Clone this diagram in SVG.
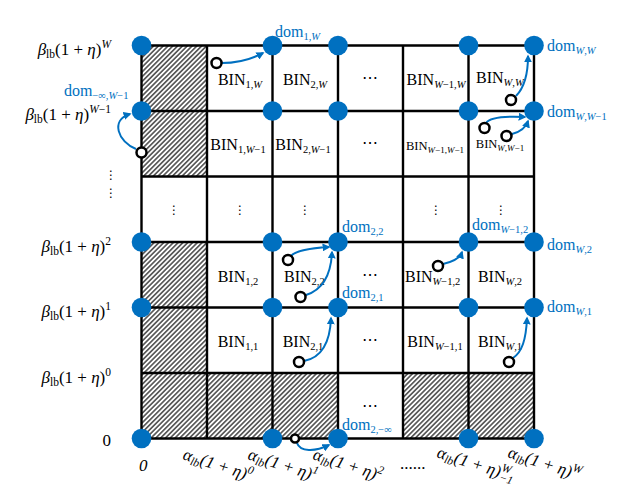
<svg xmlns="http://www.w3.org/2000/svg" width="640" height="485" viewBox="0 0 640 485">
<style>
text{font-family:"Liberation Serif","DejaVu Serif",serif;font-size:16px;fill:#000}
.it{font-style:italic}
.s{font-size:10.5px}
.ax{font-size:17px}
.ax .s{font-size:11.5px}
.sm{font-size:12.5px}
.sm .s{font-size:9px}
.blue{fill:#0070C0}
.grid{stroke:#000;stroke-width:2.4;fill:none}
.dot{fill:#0070C0}
.oc{fill:#fff;stroke:#000;stroke-width:2.5}
.arr{fill:none;stroke:#0070C0;stroke-width:2;marker-end:url(#ah)}
.dots{font-family:"DejaVu Sans",sans-serif;font-size:12px}
</style>
<defs>
<pattern id="hatch" width="3.4" height="3.4" patternUnits="userSpaceOnUse" patternTransform="rotate(45)">
<line x1="1.7" y1="0" x2="1.7" y2="3.4" stroke="#000" stroke-width="1.1"/>
</pattern>
<marker id="ah" viewBox="0 0 10 10" refX="8" refY="5" markerWidth="4" markerHeight="4" orient="auto">
<path d="M0,0 L10,5 L0,10 z" fill="#0070C0"/>
</marker>
</defs>
<rect width="640" height="485" fill="#fff"/>

<g id="hatched">
<rect x="141.5" y="45.5" width="65.5" height="131" fill="url(#hatch)"/>
<rect x="141.5" y="242" width="65.5" height="196.5" fill="url(#hatch)"/>
<rect x="207" y="373" width="131" height="65.5" fill="url(#hatch)"/>
<rect x="403" y="373" width="131" height="65.5" fill="url(#hatch)"/>
</g>

<g id="grid" class="grid">
<path d="M141.5 45.5V438.5M207 45.5V438.5M272.5 45.5V438.5M338 45.5V438.5M403 45.5V438.5M468.5 45.5V438.5M534 45.5V438.5"/>
<path d="M141.5 45.5H534M141.5 111H534M141.5 176.5H534M141.5 242H534M141.5 307.5H534M141.5 373H534M141.5 438.5H534"/>
</g>

<g id="bins">
<text x="240" y="85" text-anchor="middle">BIN<tspan class="s" dy="3">1,</tspan><tspan class="s it">W</tspan></text>
<text x="305" y="85" text-anchor="middle">BIN<tspan class="s" dy="3">2,</tspan><tspan class="s it">W</tspan></text>
<text x="370" y="83" text-anchor="middle">⋯</text>
<text x="436" y="85" text-anchor="middle">BIN<tspan class="s it" dy="3">W</tspan><tspan class="s">−1,</tspan><tspan class="s it">W</tspan></text>
<text x="476" y="83">BIN<tspan class="s it" dy="3">W</tspan><tspan class="s">,</tspan><tspan class="s it">W</tspan></text>

<text x="238" y="150" text-anchor="middle">BIN<tspan class="s" dy="3">1,</tspan><tspan class="s it">W</tspan><tspan class="s">−1</tspan></text>
<text x="303" y="150" text-anchor="middle">BIN<tspan class="s" dy="3">2,</tspan><tspan class="s it">W</tspan><tspan class="s">−1</tspan></text>
<text x="370" y="148" text-anchor="middle">⋯</text>
<text class="sm" x="435" y="150" text-anchor="middle">BIN<tspan class="s" dy="2.5" font-style="italic">W</tspan><tspan class="s">−1,</tspan><tspan class="s" font-style="italic">W</tspan><tspan class="s">−1</tspan></text>
<text class="sm" x="500" y="148" text-anchor="middle">BIN<tspan class="s" dy="2.5" font-style="italic">W</tspan><tspan class="s">,</tspan><tspan class="s" font-style="italic">W</tspan><tspan class="s">−1</tspan></text>

<text class="dots" x="174" y="214" text-anchor="middle">⋮</text>
<text class="dots" x="240" y="214" text-anchor="middle">⋮</text>
<text class="dots" x="305" y="214" text-anchor="middle">⋮</text>
<text class="dots" x="436" y="214" text-anchor="middle">⋮</text>
<text class="dots" x="501" y="214" text-anchor="middle">⋮</text>

<text x="238" y="282" text-anchor="middle">BIN<tspan class="s" dy="3">1,2</tspan></text>
<text x="284" y="282">BIN<tspan class="s" dy="3">2,2</tspan></text>
<text x="370" y="280" text-anchor="middle">⋯</text>
<text x="405" y="282">BIN<tspan class="s it" dy="3">W</tspan><tspan class="s">−1,2</tspan></text>
<text x="500" y="282" text-anchor="middle">BIN<tspan class="s it" dy="3">W</tspan><tspan class="s">,2</tspan></text>

<text x="238" y="347" text-anchor="middle">BIN<tspan class="s" dy="3">1,1</tspan></text>
<text x="303" y="347" text-anchor="middle">BIN<tspan class="s" dy="3">2,1</tspan></text>
<text x="370" y="345" text-anchor="middle">⋯</text>
<text x="435" y="347" text-anchor="middle">BIN<tspan class="s it" dy="3">W</tspan><tspan class="s">−1,1</tspan></text>
<text x="500" y="347" text-anchor="middle">BIN<tspan class="s it" dy="3">W</tspan><tspan class="s">,1</tspan></text>

<text x="370" y="411" text-anchor="middle">⋯</text>
</g>

<g id="yaxis">
<text class="ax" x="111" y="55" text-anchor="end"><tspan class="it">β</tspan><tspan class="s" dy="3">lb</tspan><tspan dy="-3">(1 + </tspan><tspan class="it">η</tspan>)<tspan class="s it" dy="-7">W</tspan></text>
<text class="ax" x="111" y="120" text-anchor="end"><tspan class="it">β</tspan><tspan class="s" dy="3">lb</tspan><tspan dy="-3">(1 + </tspan><tspan class="it">η</tspan>)<tspan class="s it" dy="-7">W</tspan><tspan class="s">−1</tspan></text>
<text class="dots" x="111" y="179" text-anchor="middle">⋮</text>
<text class="dots" x="111" y="197" text-anchor="middle">⋮</text>
<text class="ax" x="111" y="252" text-anchor="end"><tspan class="it">β</tspan><tspan class="s" dy="3">lb</tspan><tspan dy="-3">(1 + </tspan><tspan class="it">η</tspan>)<tspan class="s" dy="-7">2</tspan></text>
<text class="ax" x="111" y="317" text-anchor="end"><tspan class="it">β</tspan><tspan class="s" dy="3">lb</tspan><tspan dy="-3">(1 + </tspan><tspan class="it">η</tspan>)<tspan class="s" dy="-7">1</tspan></text>
<text class="ax" x="111" y="383" text-anchor="end"><tspan class="it">β</tspan><tspan class="s" dy="3">lb</tspan><tspan dy="-3">(1 + </tspan><tspan class="it">η</tspan>)<tspan class="s" dy="-7">0</tspan></text>
<text class="ax" x="111" y="446" text-anchor="end">0</text>
</g>

<g id="xaxis">
<text class="ax it" x="139" y="471">0</text>
<text class="ax it" transform="translate(182,459) rotate(18)">α<tspan class="s" dy="3">lb</tspan><tspan dy="-3">(1 + η)</tspan><tspan class="s" dy="-7">0</tspan></text>
<text class="ax it" transform="translate(247,459) rotate(18)">α<tspan class="s" dy="3">lb</tspan><tspan dy="-3">(1 + η)</tspan><tspan class="s" dy="-7">1</tspan></text>
<text class="ax it" transform="translate(312,459) rotate(18)">α<tspan class="s" dy="3">lb</tspan><tspan dy="-3">(1 + η)</tspan><tspan class="s" dy="-7">2</tspan></text>
<text class="ax" x="400" y="469">......</text>
<text class="ax it" transform="translate(436,457) rotate(18)">α<tspan class="s" dy="3">lb</tspan><tspan dy="-3">(1 + η)</tspan><tspan class="s" dy="-7">W</tspan><tspan class="s" dy="10" dx="-9">−1</tspan></text>
<text class="ax it" transform="translate(507,457) rotate(18)">α<tspan class="s" dy="3">lb</tspan><tspan dy="-3">(1 + η)</tspan><tspan class="s" dy="-7">W</tspan></text>
</g>

<g id="dom-labels">
<text class="blue" x="275" y="37">dom<tspan class="s" dy="3">1,</tspan><tspan class="s it">W</tspan></text>
<text class="blue" x="547" y="51">dom<tspan class="s it" dy="3">W</tspan><tspan class="s">,</tspan><tspan class="s it">W</tspan></text>
<text class="blue" x="547" y="117">dom<tspan class="s it" dy="3">W</tspan><tspan class="s">,</tspan><tspan class="s it">W</tspan><tspan class="s">−1</tspan></text>
<text class="blue" x="64" y="96">dom<tspan class="s" dy="3">−∞,</tspan><tspan class="s it">W</tspan><tspan class="s">−1</tspan></text>
<text class="blue" x="342" y="232">dom<tspan class="s" dy="3">2,2</tspan></text>
<text class="blue" x="342" y="298">dom<tspan class="s" dy="3">2,1</tspan></text>
<text class="blue" x="472" y="230">dom<tspan class="s it" dy="3">W</tspan><tspan class="s">−1,2</tspan></text>
<text class="blue" x="547" y="250">dom<tspan class="s it" dy="3">W</tspan><tspan class="s">,2</tspan></text>
<text class="blue" x="547" y="312">dom<tspan class="s it" dy="3">W</tspan><tspan class="s">,1</tspan></text>
<text class="blue" x="342" y="430">dom<tspan class="s" dy="3">2,−∞</tspan></text>
</g>

<g id="connectors">
<path class="arr" d="M222 63 C235 63,250 60,263 53"/>
<path class="arr" d="M136 149 C118 142,110 120,130 114"/>
<path class="arr" d="M516 96 C524 88,528 75,528 56"/>
<path class="arr" d="M486 123 C490 117,505 116,525 117"/>
<path class="arr" d="M512 134 C520 132,526 127,528 121"/>
<path class="arr" d="M291 256 C296 250,312 248,329 247"/>
<path class="arr" d="M306 295 C322 290,331 275,332 252"/>
<path class="arr" d="M443 264 C452 262,460 258,462 252"/>
<path class="arr" d="M304 361 C320 358,330 345,331 318"/>
<path class="arr" d="M513 358 C522 352,526 340,527 318"/>
<path class="arr" d="M297 443 C300 452,315 452,329 445"/>
</g>

<g id="domain-points">
<circle class="dot" cx="141.5" cy="45.5" r="9.8"/>
<circle class="dot" cx="272.5" cy="45.5" r="9.8"/>
<circle class="dot" cx="338" cy="45.5" r="9.8"/>
<circle class="dot" cx="468.5" cy="45.5" r="9.8"/>
<circle class="dot" cx="534" cy="45.5" r="9.8"/>
<circle class="dot" cx="141.5" cy="111" r="9.8"/>
<circle class="dot" cx="272.5" cy="111" r="9.8"/>
<circle class="dot" cx="338" cy="111" r="9.8"/>
<circle class="dot" cx="468.5" cy="111" r="9.8"/>
<circle class="dot" cx="534" cy="111" r="9.8"/>
<circle class="dot" cx="141.5" cy="242" r="9.8"/>
<circle class="dot" cx="272.5" cy="242" r="9.8"/>
<circle class="dot" cx="338" cy="242" r="9.8"/>
<circle class="dot" cx="468.5" cy="242" r="9.8"/>
<circle class="dot" cx="534" cy="242" r="9.8"/>
<circle class="dot" cx="141.5" cy="307.5" r="9.8"/>
<circle class="dot" cx="272.5" cy="307.5" r="9.8"/>
<circle class="dot" cx="338" cy="307.5" r="9.8"/>
<circle class="dot" cx="468.5" cy="307.5" r="9.8"/>
<circle class="dot" cx="534" cy="307.5" r="9.8"/>
<circle class="dot" cx="141.5" cy="438.5" r="9.8"/>
<circle class="dot" cx="272.5" cy="438.5" r="9.8"/>
<circle class="dot" cx="338" cy="438.5" r="9.8"/>
<circle class="dot" cx="468.5" cy="438.5" r="9.8"/>
<circle class="dot" cx="534" cy="438.5" r="9.8"/>
</g>

<g id="items">
<circle class="oc" cx="216.5" cy="63" r="5"/>
<circle class="oc" cx="141.5" cy="152.5" r="5"/>
<circle class="oc" cx="511" cy="100" r="5"/>
<circle class="oc" cx="484.5" cy="128" r="5"/>
<circle class="oc" cx="506.5" cy="136" r="5"/>
<circle class="oc" cx="288" cy="260" r="5"/>
<circle class="oc" cx="300.5" cy="297" r="5"/>
<circle class="oc" cx="438" cy="266" r="5"/>
<circle class="oc" cx="299" cy="362" r="5"/>
<circle class="oc" cx="509" cy="362" r="5"/>
<circle class="oc" cx="295" cy="438.5" r="4" stroke-width="2"/>
</g>
</svg>
